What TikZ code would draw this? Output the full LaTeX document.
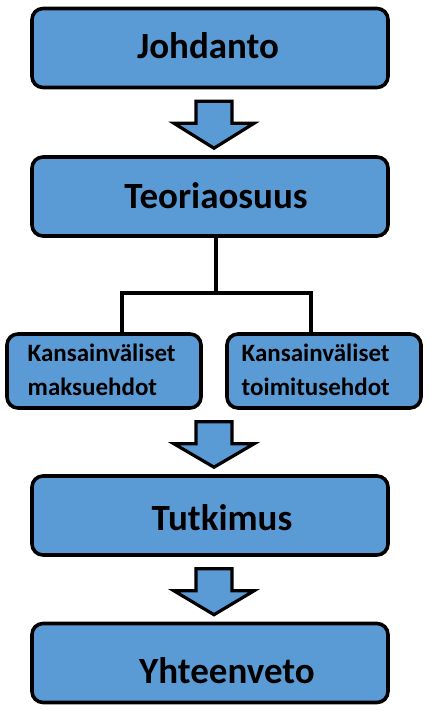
\documentclass[tikz,border=0pt]{standalone}
\usepackage{fontspec}
\setmainfont{Carlito}
\usetikzlibrary{calc,positioning}
\definecolor{boxblue}{RGB}{91,155,213}

\begin{document}
\begin{tikzpicture}[x=1pt,y=-1pt,
    bigbox/.style={draw=black,fill=boxblue,line width=3.6pt,rounded corners=11pt,
      minimum width=356pt,minimum height=79pt,inner sep=0pt},
    subbox/.style={draw=black,fill=boxblue,line width=3.6pt,rounded corners=11pt,
      minimum width=194pt,minimum height=74pt,inner sep=0pt},
    bigtext/.style={anchor=base,font=\fontsize{37}{40}\selectfont\bfseries},
    subtext/.style={anchor=west,align=left,font=\fontsize{25}{34}\selectfont\bfseries},
    link/.style={draw=black,line width=3.6pt},
    blockarrow/.style={draw=black,fill=boxblue,line width=3.2pt,line join=miter}]
  \useasboundingbox (0,0) rectangle (429,710);
  \node[bigbox] (johdanto) at (210,48) {};
  \node[bigbox] (teoria) at (210,196.5) {};
  \node[subbox] (maksu) at (104,371) {};
  \node[subbox] (toimitus) at (324,371) {};
  \node[bigbox] (tutkimus) at (210,515.5) {};
  \node[bigbox] (yhteenveto) at (210,663) {};
  \node[bigtext] (johdanto-t) at (208,58) {Johdanto};
  \node[bigtext] (teoria-t) at (216,208) {Teoriaosuus};
  \node[bigtext] (tutkimus-t) at (222,530) {Tutkimus};
  \node[bigtext] (yhteenveto-t) at (227,683) {Yhteenveto};
  \node[subtext] (maksu-t) at ($(maksu.west)+(19,-1)$) {Kansainväliset\\maksuehdot};
  \node[subtext] (toimitus-t) at ($(toimitus.west)+(13,-1)$) {Kansainväliset\\toimitusehdot};
  \draw[link] ($(teoria.south)+(6,0)$) -- ++(0,55) coordinate (haara);
  \draw[link] ($(maksu.north)+(18,0)$) |- (haara) -| ($(toimitus.north)+(-13,0)$);
  \coordinate (alaosat) at (maksu.south -| tutkimus.north);
  \foreach \a/\b in {johdanto.south/teoria.north,alaosat/tutkimus.north,tutkimus.south/yhteenveto.north}{
    \draw[blockarrow] ($(\a)+(-14,12)$) -- ++(36,0) -- ++(0,22) -- ++(22,0) coordinate (r)
      -- ($(\b)+(4,-7)$) -- ($(r)+(-80,0)$) -- ++(22,0) -- cycle;
  }
\end{tikzpicture}
\end{document}
